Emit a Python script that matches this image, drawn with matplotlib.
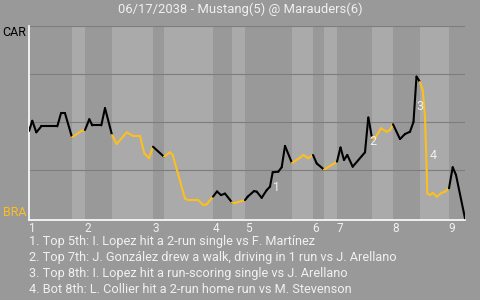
import matplotlib.pyplot as plt
from matplotlib.collections import LineCollection
import numpy as np

plt.rcParams['font.family'] = ['Roboto', 'DejaVu Sans']

title = "06/17/2038 - Mustang(5) @ Marauders(6)"
away, home = "CAR", "BRA"

# game progress (play position) and away win probability (%)
t = [0, 3.3, 7.3, 12.3, 28.3, 32, 36, 43, 52.7, 56, 60.3, 63.3, 72.3, 76, 83,
     87.7, 97.7, 104.3, 111, 115.3, 120, 124, 135, 141, 143.7, 156, 159.3,
     169.3, 174.3, 177.7, 184, 188, 192, 196, 203, 206, 216, 218.7, 225,
     227.7, 232.7, 237.7, 241, 243.7, 249.3, 252.7, 256, 263, 271, 274.3,
     279.3, 284, 287.7, 295, 302.7, 308, 311.5, 315, 318.3, 323.7, 336,
     339.3, 341, 343, 346, 352, 357.7, 361, 364, 371, 376, 381, 384.5, 387.5,
     391, 393.7, 396, 397.7, 398.3, 401, 403.7, 407.7, 412.7, 416, 420,
     423.7, 427, 436]
wp = [45.5, 50.8, 44.8, 47.9, 47.9, 54.7, 54.7, 42.2, 45.6, 46.0, 51.6, 48.4,
      48.4, 57.4, 43.4, 38.7, 44.8, 42.9, 42.9, 33.9, 31.3, 37.3, 32.1, 34.4,
      33.0, 10.3, 9.5, 9.5, 6.9, 7.3, 11.3, 14.0, 12.1, 12.9, 8.3, 8.0, 9.5,
      11.3, 14.2, 13.9, 10.7, 14.7, 16.5, 24.0, 24.3, 26.6, 37.7, 28.8, 31.6,
      33.0, 31.3, 33.0, 28.6, 25.4, 27.8, 29.5, 36.9, 30.4, 33.0, 26.9, 34.4,
      52.5, 47.7, 41.7, 41.7, 46.9, 45.1, 46.0, 49.0, 41.3, 43.9, 45.1, 50.2,
      73.8, 71.0, 66.8, 52.9, 25.2, 13.0, 12.1, 13.3, 11.3, 13.3, 13.9, 15.6,
      26.6, 22.6, 0]

# half-inning boundaries (top 1, bot 1, top 2, ...)
halves = [0, 43, 56, 83, 124, 135, 184, 203, 216, 263, 284, 295, 308, 343,
          364, 391, 420, 436]
innings = ['1', '2', '3', '4', '5', '6', '7', '8', '9']

# key plays
note_t = [247, 343.7, 391, 403.7]
note_wp = [16.3, 39.9, 58.0, 32.5]
notes = [
    "1. Top 5th: I. Lopez hit a 2-run single vs F. Martínez",
    "2. Top 7th: J. González drew a walk, driving in 1 run vs J. Arellano",
    "3. Top 8th: I. Lopez hit a run-scoring single vs J. Arellano",
    "4. Bot 8th: L. Collier hit a 2-run home run vs M. Stevenson",
]

bg = '#999999'
light = '#aaaaaa'
gold = '#fdbf20'
txt = '#f0f0f0'

fig = plt.figure(figsize=(4.8, 3), dpi=100, facecolor=bg)
ax = fig.add_axes([29/480, 1 - 219.5/300, 436/480, 193.2/300])
ax.set_facecolor(bg)

# shade bottom halves
for i in range(1, len(halves) - 1, 2):
    ax.axvspan(halves[i], halves[i + 1], color=light, lw=0, zorder=0)

for g in [25, 50, 75, 100]:
    ax.axhline(g, color='#7d7d7d', lw=0.8, zorder=1)

# colour each segment by the half-inning it sits in
pts = np.column_stack([t, wp])
segs = np.stack([pts[:-1], pts[1:]], axis=1)
mids = (pts[:-1, 0] + pts[1:, 0]) / 2
half_idx = np.searchsorted(halves, mids) - 1
colors = ['black' if h % 2 == 0 else gold for h in half_idx]
lc = LineCollection(segs, colors=colors, linewidths=1.5, zorder=3,
                    capstyle='round', joinstyle='round')
ax.add_collection(lc)

for k, (x, y) in enumerate(zip(note_t, note_wp)):
    ax.text(x, y, str(k + 1), color=txt, fontsize=9, ha='center',
            va='center', zorder=4)

ax.set_xlim(0, 436)
ax.set_ylim(-0.6, 100)
ax.set_yticks([])
ax.set_xticks([h + 3 for h in halves[0:-1:2]])
ax.set_xticklabels(innings, color=txt, fontsize=8.5)
ax.tick_params(axis='x', length=0, pad=1.5)
for s in ['top', 'right']:
    ax.spines[s].set_visible(False)
for s in ['left', 'bottom']:
    ax.spines[s].set_color('white')
    ax.spines[s].set_linewidth(1.2)

fig.text(0.5, 1 - 9/300, title, color=txt, fontsize=9.4, ha='center',
         va='center')
fig.text(26/480, 1 - 33/300, away, color='black', fontsize=9, ha='right',
         va='center')
fig.text(26/480, 1 - 212.5/300, home, color=gold, fontsize=9, ha='right',
         va='center')
for i, n in enumerate(notes):
    fig.text(29/480, 1 - (241.7 + 16 * i)/300, n, color=txt, fontsize=9.15,
             ha='left', va='center')

fig.savefig('out.png', dpi=100, facecolor=bg)
